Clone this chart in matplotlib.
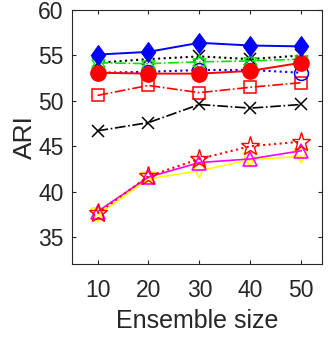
import matplotlib
matplotlib.use("Agg")
import matplotlib.pyplot as plt
from matplotlib.path import Path
import numpy as np

plt.rcParams['font.family'] = ['Liberation Sans', 'DejaVu Sans']

ensemble_sizes = [10, 20, 30, 40, 50]

yellow_tri_down = [37.4, 41.4, 42.3, 43.5, 43.9]
magenta_tri_up = [37.8, 41.6, 43.2, 43.6, 44.5]
red_star_dotted = [37.6, 41.7, 43.6, 45.0, 45.5]
black_x_dashdot = [46.7, 47.6, 49.6, 49.2, 49.6]
red_square_dashdot = [50.6, 51.7, 50.9, 51.5, 52.0]
blue_circle_dotted = [53.1, 53.2, 53.4, 53.4, 53.1]
black_x_dotted = [54.2, 54.6, 54.9, 54.6, 55.0]
green_hex_dashdot = [54.2, 54.1, 54.3, 54.4, 54.6]
red_dot_solid = [53.1, 53.0, 53.0, 53.3, 54.2]
blue_diamond_solid = [55.1, 55.4, 56.4, 56.1, 56.0]

yticks = [35, 40, 45, 50, 55, 60]

diamond = Path([(0, 1), (0.72, 0), (0, -1), (-0.72, 0), (0, 1)],
               [Path.MOVETO, Path.LINETO, Path.LINETO, Path.LINETO, Path.CLOSEPOLY])

fig = plt.figure(figsize=(3.29, 3.37), dpi=100)
ax = fig.add_axes([0.219, 0.216, 0.760, 0.754])

lw = 1.2
ax.plot(ensemble_sizes, yellow_tri_down, '-', color=(1, 1, 0), lw=lw, marker='v',
        ms=10, mfc='none', mec=(1, 1, 0), mew=1.2)
ax.plot(ensemble_sizes, magenta_tri_up, '-', color=(1, 0, 1), lw=lw, marker='^',
        ms=10, mfc='none', mec=(1, 0, 1), mew=1.2)
ax.plot(ensemble_sizes, red_star_dotted, ':', color=(1, 0, 0), lw=lw + 0.3, marker='*',
        ms=14, mfc='none', mec=(1, 0, 0), mew=1.0)
ax.plot(ensemble_sizes, black_x_dashdot, '-.', color='k', lw=lw, marker='x',
        ms=9, mew=1.1)
ax.plot(ensemble_sizes, red_square_dashdot, '-.', color=(1, 0, 0), lw=lw, marker='s',
        ms=8, mfc='none', mec=(1, 0, 0), mew=1.1)
ax.plot(ensemble_sizes, blue_circle_dotted, ':', color=(0, 0, 1), lw=lw + 0.3, marker='o',
        ms=10, mfc='none', mec=(0, 0, 1), mew=1.1)
ax.plot(ensemble_sizes, black_x_dotted, ':', color='k', lw=lw + 0.3, marker='x',
        ms=9, mew=1.1)
ax.plot(ensemble_sizes, green_hex_dashdot, '-.', color=(0, 0.9, 0), lw=lw, marker=(6, 1, 0),
        ms=11, mfc='none', mec=(0, 0.9, 0), mew=1.0)
ax.plot(ensemble_sizes, red_dot_solid, '-', color=(1, 0, 0), lw=lw + 0.2, marker='o',
        ms=11, mfc=(1, 0, 0), mec=(1, 0, 0))
ax.plot(ensemble_sizes, blue_diamond_solid, '-', color=(0, 0, 1), lw=lw + 0.2, marker=diamond,
        ms=14, mfc=(0, 0, 1), mec=(0, 0, 1))

ax.set_xlim(5, 54.1)
ax.set_ylim(32, 60)
ax.set_xticks(ensemble_sizes)
ax.set_yticks(yticks)

axc = (0.15, 0.15, 0.15)
for s in ax.spines.values():
    s.set_color(axc)
    s.set_linewidth(0.8)
ax.tick_params(direction='in', top=True, right=True, length=3, width=0.8,
               colors=axc, labelsize=16.5)
ax.tick_params(axis='x', pad=11)
ax.tick_params(axis='y', pad=6)
ax.set_xlabel('Ensemble size', fontsize=18, color=axc, labelpad=5)
ax.set_ylabel('ARI', fontsize=19, color=axc, labelpad=1)

fig.savefig('out.png', dpi=100)
